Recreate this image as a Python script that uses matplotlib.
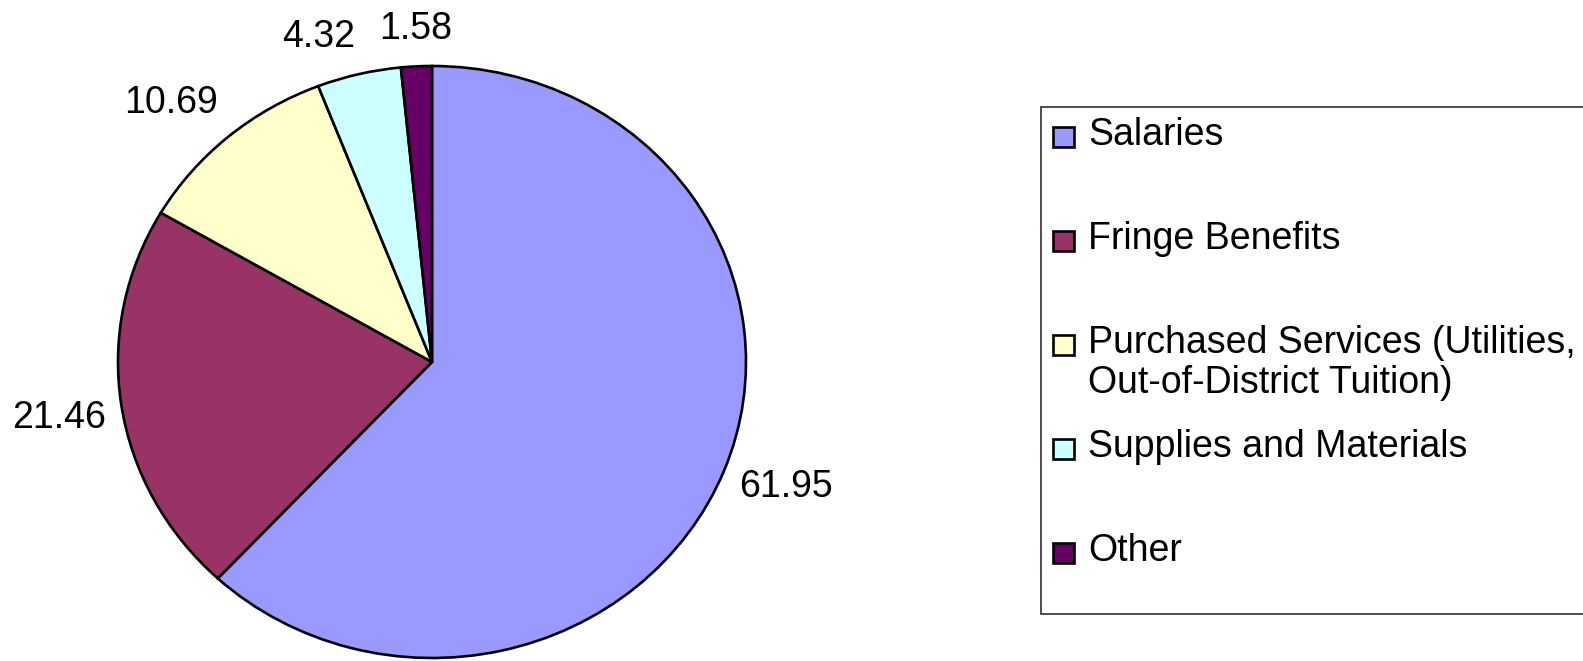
import numpy as np
import matplotlib
matplotlib.use('Agg')
import matplotlib.pyplot as plt
from matplotlib.patches import Rectangle

categories = ['Salaries', 'Fringe Benefits', 'Purchased Services (Utilities,\nOut-of-District Tuition)',
              'Supplies and Materials', 'Other']
values = [61.95, 21.46, 10.69, 4.32, 1.58]
colors = ['#9999FF', '#993366', '#FFFFCC', '#CCFFFF', '#660066']

W, H = 1583, 661
plt.rcParams['font.family'] = ['Liberation Sans', 'DejaVu Sans']
fig = plt.figure(figsize=(W / 100, H / 100), dpi=100)

# pie box in pixels (slightly wider than tall, like the original)
px0, px1, py0, py1 = 118, 746, 66, 658
ax = fig.add_axes([px0 / W, (H - py1) / H, (px1 - px0) / W, (py1 - py0) / H])
wedges, _ = ax.pie(values, colors=colors, startangle=90, counterclock=False,
                   wedgeprops=dict(edgecolor='black', linewidth=1.9))
ax.set_aspect('auto')
ax.set_xlim(-1, 1)
ax.set_ylim(-1, 1)
ax.axis('off')

# value labels just outside the pie
cum = np.cumsum([0] + values[:-1])
for v, c in zip(values, cum):
    th = np.deg2rad((c + v / 2) / sum(values) * 360)
    sx, sy = np.sin(th), np.cos(th)
    if abs(sx) < 0.1:
        ha = 'center'
    else:
        ha = 'left' if sx > 0 else 'right'
    dy = 0
    if sy > 0.5:
        va = 'bottom'
        dy = 3.5
    elif sy < -0.5:
        va = 'top'
    else:
        va = 'center_baseline'
        dy = -5
    d = 1.05
    ax.annotate(f'{v:.2f}', xy=(d * sx, d * sy), xytext=(0, dy), textcoords='offset points',
                ha=ha, va=va, fontsize=27, annotation_clip=False)

# legend box, drawn by hand so entries keep a fixed pitch like the original
lx0, ly0, ly1 = 1041, 107, 614
fig.add_artist(Rectangle((lx0 / W, (H - ly1) / H), (W + 10 - lx0) / W, (ly1 - ly0) / H,
                         transform=fig.transFigure, facecolor='white', edgecolor='#303030',
                         linewidth=1.2, clip_on=False))
base0, pitch, line_px = 145, 104, 40
for i, (lab, col) in enumerate(zip(categories, colors)):
    b = base0 + i * pitch
    fig.add_artist(Rectangle((1053 / W, (H - b - 2) / H), 21 / W, 20 / H,
                             transform=fig.transFigure, facecolor=col,
                             edgecolor='black', linewidth=1.9))
    nl = lab.count('\n')
    fig.text(1088 / W, (H - b - nl * line_px) / H, lab, ha='left', va='baseline',
             fontsize=27, linespacing=1.15)

fig.savefig('out.png', dpi=100)
